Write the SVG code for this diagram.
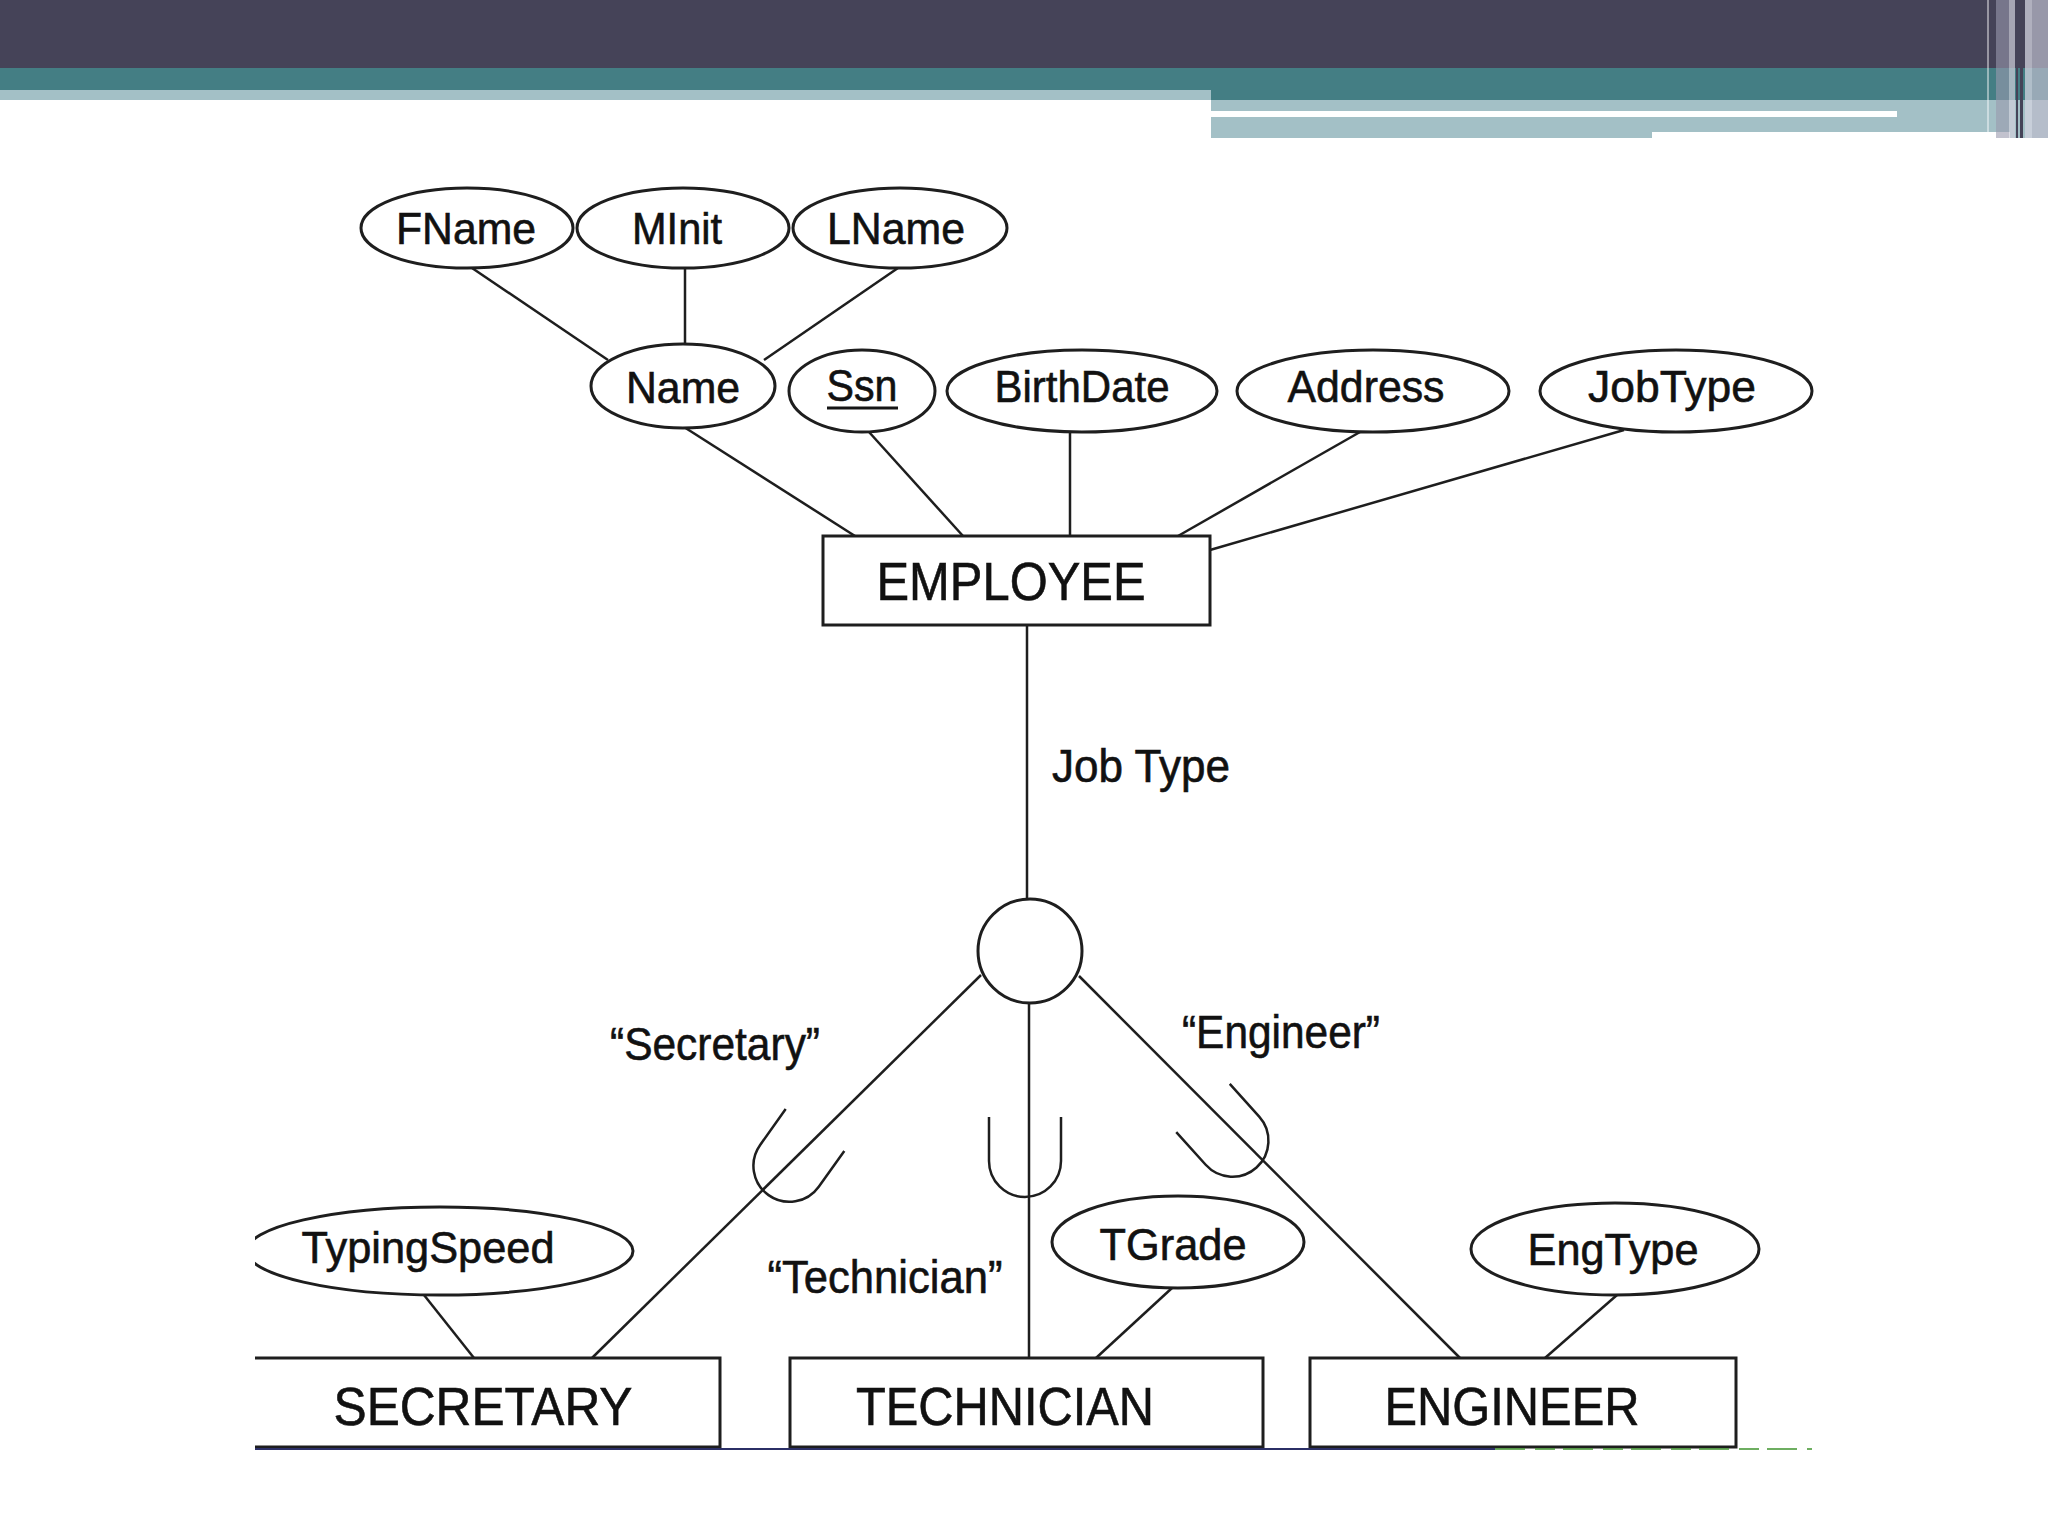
<svg xmlns="http://www.w3.org/2000/svg" width="2048" height="1536" viewBox="0 0 2048 1536">
  <defs>
    <style>
      .attr { fill: #ffffff; stroke: #1e1e1e; stroke-width: 3; }
      .ent { fill: #ffffff; stroke: #1e1e1e; stroke-width: 3; }
      .lbl { font-family: "Liberation Sans", Arial, sans-serif; fill: #111111; text-anchor: middle; stroke: #111111; stroke-width: 0.6; }
      .a { font-size: 44px; }
      .e { font-size: 54px; }
      .c { font-size: 46px; }
      .conn line { stroke: #1e1e1e; stroke-width: 2.5; fill: none; }
    </style>
    <clipPath id="leftclip"><rect x="255" y="0" width="1793" height="1536"/></clipPath>
    <path id="subset" d="M -36,0 V 44 A 36 36 0 0 0 36 44 V 0" fill="none" stroke="#1e1e1e" stroke-width="2.5"/>
  </defs>

  <rect x="0" y="0" width="2048" height="1536" fill="#ffffff"/>

  <!-- header bands -->
  <g id="header">
    <rect x="0" y="0" width="2048" height="68" fill="#454358"/>
    <rect x="0" y="68" width="2048" height="32" fill="#447e84"/>
    <rect x="0" y="90" width="1211" height="10" fill="#a3c0c6"/>
    <rect x="1211" y="100" width="837" height="38" fill="#a3c0c6"/>
    <rect x="1211" y="111" width="686" height="6" fill="#ffffff"/>
    <rect x="1652" y="132" width="358" height="6" fill="#ffffff"/>
    <rect x="1987" y="0" width="2" height="138" fill="#ffffff" opacity="0.45"/>
    <rect x="1996" y="0" width="13" height="138" fill="#9a9aae" opacity="0.6"/>
    <rect x="2009" y="0" width="6" height="138" fill="#d0d0dc" opacity="0.7"/>
    <rect x="2016" y="0" width="2" height="138" fill="#454358"/>
    <rect x="2020" y="0" width="3" height="138" fill="#454358"/>
    <rect x="2025" y="0" width="7" height="138" fill="#d4d4e0" opacity="0.75"/>
    <rect x="2032" y="0" width="16" height="138" fill="#bcbccc" opacity="0.7"/>
  </g>

  <!-- connectors -->
  <g id="connectors" class="conn">
    <line x1="472" y1="268" x2="608" y2="360"/>
    <line x1="685" y1="268" x2="685" y2="344"/>
    <line x1="898" y1="268" x2="764" y2="360"/>
    <line x1="684" y1="427" x2="855" y2="536"/>
    <line x1="869" y1="432" x2="963" y2="536"/>
    <line x1="1070" y1="432" x2="1070" y2="536"/>
    <line x1="1360" y1="432" x2="1178" y2="536"/>
    <line x1="1624" y1="430" x2="1210" y2="550"/>
    <line x1="1027" y1="625" x2="1027" y2="899"/>
    <line x1="981" y1="975" x2="592" y2="1358"/>
    <line x1="1029" y1="1003" x2="1029" y2="1358"/>
    <line x1="1079" y1="976" x2="1460" y2="1358"/>
    <line x1="424" y1="1295" x2="474" y2="1358"/>
    <line x1="1172" y1="1288" x2="1096" y2="1358"/>
    <line x1="1617" y1="1295" x2="1545" y2="1358"/>
    <use href="#subset" transform="translate(815,1130) rotate(35.5)"/>
    <use href="#subset" transform="translate(1025,1117)"/>
    <use href="#subset" transform="translate(1203,1108) rotate(-42)"/>
  </g>

  <!-- labels on connectors -->
  <g id="conn-labels">
    <text class="lbl c" x="1141" y="782" textLength="178" lengthAdjust="spacingAndGlyphs">Job Type</text>
    <text class="lbl c" x="715" y="1060" textLength="210" lengthAdjust="spacingAndGlyphs">“Secretary”</text>
    <text class="lbl c" x="1281" y="1048" textLength="198" lengthAdjust="spacingAndGlyphs">“Engineer”</text>
    <text class="lbl c" x="885" y="1293" textLength="235" lengthAdjust="spacingAndGlyphs">“Technician”</text>
  </g>

  <!-- attribute nodes -->
  <g id="FName"><ellipse class="attr" cx="467" cy="228" rx="106" ry="40"/><text class="lbl a" x="466" y="244" textLength="140" lengthAdjust="spacingAndGlyphs">FName</text></g>
  <g id="MInit"><ellipse class="attr" cx="683" cy="228" rx="106" ry="40"/><text class="lbl a" x="677" y="244" textLength="90" lengthAdjust="spacingAndGlyphs">MInit</text></g>
  <g id="LName"><ellipse class="attr" cx="900" cy="228" rx="107" ry="40"/><text class="lbl a" x="896" y="244" textLength="138" lengthAdjust="spacingAndGlyphs">LName</text></g>
  <g id="Name"><ellipse class="attr" cx="683" cy="386" rx="92" ry="42"/><text class="lbl a" x="683" y="403" textLength="114" lengthAdjust="spacingAndGlyphs">Name</text></g>
  <g id="Ssn"><ellipse class="attr" cx="862" cy="391" rx="73" ry="41"/><text class="lbl a" x="862" y="401" textLength="71" lengthAdjust="spacingAndGlyphs">Ssn</text><line x1="827" y1="408" x2="898" y2="408" stroke="#151515" stroke-width="3"/></g>
  <g id="BirthDate"><ellipse class="attr" cx="1082" cy="391" rx="135" ry="41"/><text class="lbl a" x="1082" y="402" textLength="175" lengthAdjust="spacingAndGlyphs">BirthDate</text></g>
  <g id="Address"><ellipse class="attr" cx="1373" cy="391" rx="136" ry="41"/><text class="lbl a" x="1366" y="402" textLength="157" lengthAdjust="spacingAndGlyphs">Address</text></g>
  <g id="JobType"><ellipse class="attr" cx="1676" cy="391" rx="136" ry="41"/><text class="lbl a" x="1672" y="402" textLength="168" lengthAdjust="spacingAndGlyphs">JobType</text></g>

  <!-- entity EMPLOYEE -->
  <g id="EMPLOYEE"><rect class="ent" x="823" y="536" width="387" height="89"/><text class="lbl e" x="1011" y="600" textLength="269" lengthAdjust="spacingAndGlyphs">EMPLOYEE</text></g>

  <!-- specialization circle -->
  <g id="disjoint-circle"><circle class="attr" cx="1030" cy="951" r="52"/></g>

  <!-- subclass attributes -->
  <g id="TypingSpeed" clip-path="url(#leftclip)"><ellipse class="attr" cx="440" cy="1251" rx="193" ry="44"/><text class="lbl a" x="428" y="1263" textLength="253" lengthAdjust="spacingAndGlyphs">TypingSpeed</text></g>
  <g id="TGrade"><ellipse class="attr" cx="1178" cy="1242" rx="126" ry="46"/><text class="lbl a" x="1173" y="1260" textLength="147" lengthAdjust="spacingAndGlyphs">TGrade</text></g>
  <g id="EngType"><ellipse class="attr" cx="1615" cy="1249" rx="144" ry="46"/><text class="lbl a" x="1613" y="1265" textLength="171" lengthAdjust="spacingAndGlyphs">EngType</text></g>

  <!-- subclass entities -->
  <g id="SECRETARY"><rect x="255" y="1358" width="465" height="89" fill="#ffffff"/><path d="M255,1358 H720 V1447 H255" fill="none" stroke="#1e1e1e" stroke-width="3"/><text class="lbl e" x="483" y="1425" textLength="299" lengthAdjust="spacingAndGlyphs">SECRETARY</text></g>
  <g id="TECHNICIAN"><rect class="ent" x="790" y="1358" width="473" height="89"/><text class="lbl e" x="1005" y="1425" textLength="298" lengthAdjust="spacingAndGlyphs">TECHNICIAN</text></g>
  <g id="ENGINEER"><rect class="ent" x="1310" y="1358" width="426" height="89"/><text class="lbl e" x="1512" y="1425" textLength="255" lengthAdjust="spacingAndGlyphs">ENGINEER</text></g>

  <!-- bottom edge of the cropped figure -->
  <g id="bottom-edge">
    <line x1="255" y1="1449" x2="1495" y2="1449" stroke="#2b2f66" stroke-width="2"/>
    <line x1="1495" y1="1449" x2="1812" y2="1449" stroke="#4a9a3a" stroke-width="2" stroke-dasharray="30 10 20 8" opacity="0.8"/>
  </g>
</svg>
